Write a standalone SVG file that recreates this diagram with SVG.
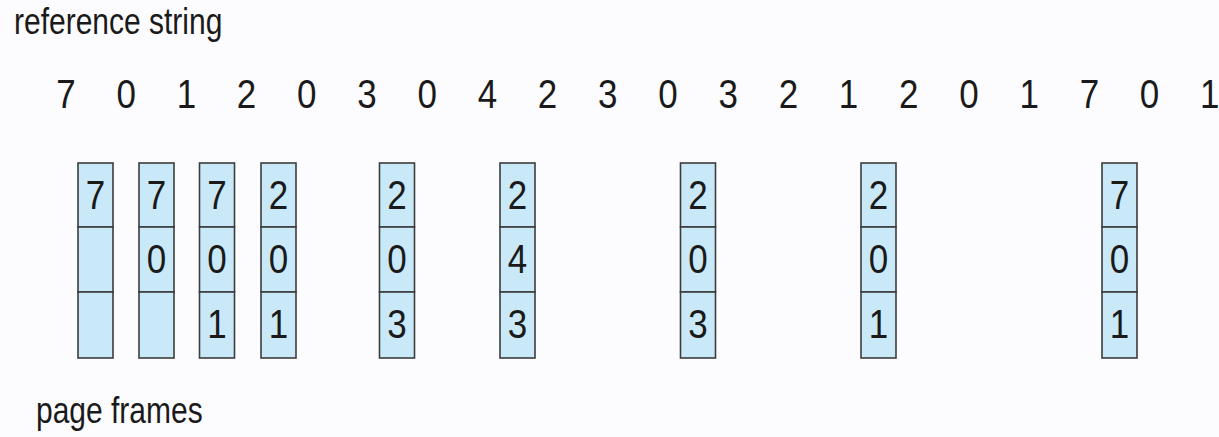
<svg xmlns="http://www.w3.org/2000/svg" width="1219" height="437" viewBox="0 0 1219 437">
<style>
text{font-family:"Liberation Sans",Arial,sans-serif;fill:#1a1a1a}
.lbl{font-size:30px}
.d{font-size:35px;text-anchor:middle}
.cell{fill:#c9e9f9;stroke:#3c3c3c;stroke-width:1.6}
</style>
<rect width="1219" height="437" fill="#fcfcfe"/>
<g id="labels">
<text class="lbl" transform="translate(14,34) scale(1,1.25)">reference string</text>
<text class="lbl" transform="translate(36,423) scale(1,1.25)">page frames</text>
</g>
<g id="reference-string">
<text class="d" transform="translate(66,108) scale(1,1.15)">7</text>
<text class="d" transform="translate(126.2,108) scale(1,1.15)">0</text>
<text class="d" transform="translate(186.4,108) scale(1,1.15)">1</text>
<text class="d" transform="translate(246.6,108) scale(1,1.15)">2</text>
<text class="d" transform="translate(306.8,108) scale(1,1.15)">0</text>
<text class="d" transform="translate(367,108) scale(1,1.15)">3</text>
<text class="d" transform="translate(427.2,108) scale(1,1.15)">0</text>
<text class="d" transform="translate(487.4,108) scale(1,1.15)">4</text>
<text class="d" transform="translate(547.6,108) scale(1,1.15)">2</text>
<text class="d" transform="translate(607.8,108) scale(1,1.15)">3</text>
<text class="d" transform="translate(668,108) scale(1,1.15)">0</text>
<text class="d" transform="translate(728.2,108) scale(1,1.15)">3</text>
<text class="d" transform="translate(788.4,108) scale(1,1.15)">2</text>
<text class="d" transform="translate(848.6,108) scale(1,1.15)">1</text>
<text class="d" transform="translate(908.8,108) scale(1,1.15)">2</text>
<text class="d" transform="translate(969,108) scale(1,1.15)">0</text>
<text class="d" transform="translate(1029.2,108) scale(1,1.15)">1</text>
<text class="d" transform="translate(1089.4,108) scale(1,1.15)">7</text>
<text class="d" transform="translate(1149.6,108) scale(1,1.15)">0</text>
<text class="d" transform="translate(1209.8,108) scale(1,1.15)">1</text>
</g>
<g id="frame1" transform="translate(78,0)">
<rect class="cell" x="0" y="163" width="35" height="64"/><rect class="cell" x="0" y="227" width="35" height="65"/><rect class="cell" x="0" y="292" width="35" height="66"/>
<text class="d" transform="translate(17.5,209) scale(1,1.15)">7</text>
</g>
<g id="frame2" transform="translate(139,0)">
<rect class="cell" x="0" y="163" width="35" height="64"/><rect class="cell" x="0" y="227" width="35" height="65"/><rect class="cell" x="0" y="292" width="35" height="66"/>
<text class="d" transform="translate(17.5,209) scale(1,1.15)">7</text>
<text class="d" transform="translate(17.5,273) scale(1,1.15)">0</text>
</g>
<g id="frame3" transform="translate(199.5,0)">
<rect class="cell" x="0" y="163" width="35" height="64"/><rect class="cell" x="0" y="227" width="35" height="65"/><rect class="cell" x="0" y="292" width="35" height="66"/>
<text class="d" transform="translate(17.5,209) scale(1,1.15)">7</text>
<text class="d" transform="translate(17.5,273) scale(1,1.15)">0</text>
<text class="d" transform="translate(17.5,338) scale(1,1.15)">1</text>
</g>
<g id="frame4" transform="translate(261,0)">
<rect class="cell" x="0" y="163" width="35" height="64"/><rect class="cell" x="0" y="227" width="35" height="65"/><rect class="cell" x="0" y="292" width="35" height="66"/>
<text class="d" transform="translate(17.5,209) scale(1,1.15)">2</text>
<text class="d" transform="translate(17.5,273) scale(1,1.15)">0</text>
<text class="d" transform="translate(17.5,338) scale(1,1.15)">1</text>
</g>
<g id="frame5" transform="translate(379.5,0)">
<rect class="cell" x="0" y="163" width="35" height="64"/><rect class="cell" x="0" y="227" width="35" height="65"/><rect class="cell" x="0" y="292" width="35" height="66"/>
<text class="d" transform="translate(17.5,209) scale(1,1.15)">2</text>
<text class="d" transform="translate(17.5,273) scale(1,1.15)">0</text>
<text class="d" transform="translate(17.5,338) scale(1,1.15)">3</text>
</g>
<g id="frame6" transform="translate(500,0)">
<rect class="cell" x="0" y="163" width="35" height="64"/><rect class="cell" x="0" y="227" width="35" height="65"/><rect class="cell" x="0" y="292" width="35" height="66"/>
<text class="d" transform="translate(17.5,209) scale(1,1.15)">2</text>
<text class="d" transform="translate(17.5,273) scale(1,1.15)">4</text>
<text class="d" transform="translate(17.5,338) scale(1,1.15)">3</text>
</g>
<g id="frame7" transform="translate(680.5,0)">
<rect class="cell" x="0" y="163" width="35" height="64"/><rect class="cell" x="0" y="227" width="35" height="65"/><rect class="cell" x="0" y="292" width="35" height="66"/>
<text class="d" transform="translate(17.5,209) scale(1,1.15)">2</text>
<text class="d" transform="translate(17.5,273) scale(1,1.15)">0</text>
<text class="d" transform="translate(17.5,338) scale(1,1.15)">3</text>
</g>
<g id="frame8" transform="translate(861,0)">
<rect class="cell" x="0" y="163" width="35" height="64"/><rect class="cell" x="0" y="227" width="35" height="65"/><rect class="cell" x="0" y="292" width="35" height="66"/>
<text class="d" transform="translate(17.5,209) scale(1,1.15)">2</text>
<text class="d" transform="translate(17.5,273) scale(1,1.15)">0</text>
<text class="d" transform="translate(17.5,338) scale(1,1.15)">1</text>
</g>
<g id="frame9" transform="translate(1102,0)">
<rect class="cell" x="0" y="163" width="35" height="64"/><rect class="cell" x="0" y="227" width="35" height="65"/><rect class="cell" x="0" y="292" width="35" height="66"/>
<text class="d" transform="translate(17.5,209) scale(1,1.15)">7</text>
<text class="d" transform="translate(17.5,273) scale(1,1.15)">0</text>
<text class="d" transform="translate(17.5,338) scale(1,1.15)">1</text>
</g>
<g id="connectors"/>
</svg>
